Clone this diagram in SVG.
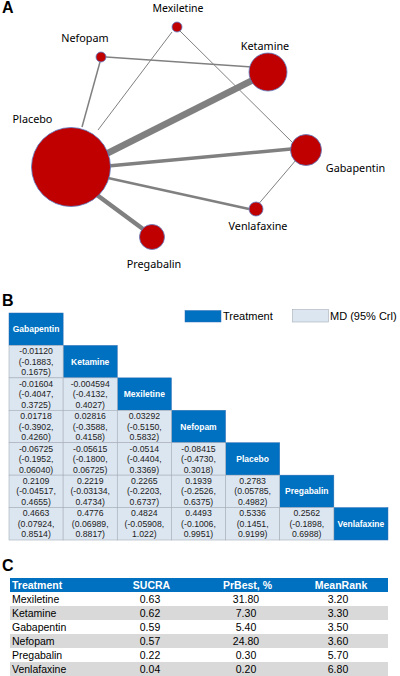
<svg xmlns="http://www.w3.org/2000/svg" width="400" height="676" viewBox="0 0 400 676">
<style>
.panel{font-family:"Liberation Sans",Arial,sans-serif;font-weight:bold;font-size:16px;fill:#000}
.nlab{font-family:"Noto Sans","Open Sans",sans-serif;font-size:10.8px;fill:#000;text-anchor:middle}
.node{fill:#C00000;stroke:#5B7FC9;stroke-width:0.8}
.edge{stroke:#808080;stroke-linecap:butt;fill:none}
.hd{fill:#0070C0;stroke:#2E6DB4;stroke-width:0.5}
.gc{fill:#DCE6F1;stroke:#A6AEB8;stroke-width:0.6}
.ht{font-family:"Liberation Sans",Arial,sans-serif;font-weight:bold;font-size:8.5px;fill:#fff;text-anchor:middle}
.ct{font-family:"Liberation Sans",Arial,sans-serif;font-size:8.7px;fill:#222;text-anchor:middle}
.lg{font-family:"Liberation Sans",Arial,sans-serif;font-size:11px;fill:#000}
.th{font-family:"Liberation Sans",Arial,sans-serif;font-weight:bold;font-size:10.5px;fill:#fff}
.td{font-family:"Liberation Sans",Arial,sans-serif;font-size:10.5px;fill:#000}
.mid{text-anchor:middle}
</style>
<rect width="400" height="676" fill="#fff"/>

<text class="panel" x="2" y="13">A</text>

<g id="connectors">
<line class="edge" x1="106" y1="57" x2="252" y2="67" stroke-width="1.5"/>
<line class="edge" x1="172" y1="32" x2="98" y2="130" stroke-width="1"/>
<line class="edge" x1="180" y1="31" x2="296" y2="146" stroke-width="1"/>
<line class="edge" x1="100" y1="62" x2="82" y2="127" stroke-width="1.5"/>
<line class="edge" x1="106" y1="154" x2="253" y2="80" stroke-width="6.5"/>
<line class="edge" x1="108" y1="166" x2="291" y2="149" stroke-width="3.5"/>
<line class="edge" x1="108" y1="178" x2="249" y2="209" stroke-width="2.5"/>
<line class="edge" x1="97" y1="195" x2="143" y2="229" stroke-width="4.5"/>
<line class="edge" x1="296" y1="160" x2="256" y2="207" stroke-width="1"/>
</g>

<g id="node-mexiletine"><circle class="node" cx="177" cy="27" r="5"/><text class="nlab" x="178" y="11.5" style="font-size:10.5px">Mexiletine</text></g>
<g id="node-nefopam"><circle class="node" cx="101" cy="57" r="5"/><text class="nlab" x="85" y="41.5">Nefopam</text></g>
<g id="node-ketamine"><circle class="node" cx="268" cy="72" r="19"/><text class="nlab" x="265" y="50">Ketamine</text></g>
<g id="node-placebo"><circle class="node" cx="71" cy="167" r="39.5"/><text class="nlab" x="32.5" y="123">Placebo</text></g>
<g id="node-gabapentin"><circle class="node" cx="306" cy="150" r="15.5"/><text class="nlab" x="355.5" y="172">Gabapentin</text></g>
<g id="node-venlafaxine"><circle class="node" cx="256" cy="209" r="7"/><text class="nlab" x="258" y="230">Venlafaxine</text></g>
<g id="node-pregabalin"><circle class="node" cx="152" cy="237" r="12.5"/><text class="nlab" x="154" y="268">Pregabalin</text></g>

<text class="panel" x="2" y="306">B</text>

<g id="legend">
<rect class="hd" x="185" y="310.5" width="36" height="11.5"/>
<text class="lg" x="223" y="319.5">Treatment</text>
<rect class="gc" x="292.5" y="309.5" width="36" height="12.5"/>
<text class="lg" x="330" y="319.5">MD (95% Crl)</text>
</g>

<g id="matrix">
<rect class="hd" x="9" y="313" width="54.14" height="32.43"/><text class="ht" x="36.07" y="332.2">Gabapentin</text>
<rect class="hd" x="63.14" y="345.43" width="54.14" height="32.43"/><text class="ht" x="90.21" y="364.6">Ketamine</text>
<rect class="hd" x="117.28" y="377.86" width="54.14" height="32.43"/><text class="ht" x="144.35" y="397.1">Mexiletine</text>
<rect class="hd" x="171.42" y="410.29" width="54.14" height="32.43"/><text class="ht" x="198.49" y="429.5">Nefopam</text>
<rect class="hd" x="225.56" y="442.72" width="54.14" height="32.43"/><text class="ht" x="252.63" y="461.9">Placebo</text>
<rect class="hd" x="279.7" y="475.15" width="54.14" height="32.43"/><text class="ht" x="306.77" y="494.4">Pregabalin</text>
<rect class="hd" x="333.84" y="507.58" width="54.14" height="32.43"/><text class="ht" x="360.91" y="526.8">Venlafaxine</text>

<rect class="gc" x="9" y="345.43" width="54.14" height="32.43"/>
<text class="ct" x="36.07" y="354.2">-0.01120</text><text class="ct" x="36.07" y="364.7">(-0.1883,</text><text class="ct" x="36.07" y="375.2">0.1675)</text>

<rect class="gc" x="9" y="377.86" width="54.14" height="32.43"/>
<text class="ct" x="36.07" y="386.7">-0.01604</text><text class="ct" x="36.07" y="397.2">(-0.4047,</text><text class="ct" x="36.07" y="407.7">0.3725)</text>
<rect class="gc" x="63.14" y="377.86" width="54.14" height="32.43"/>
<text class="ct" x="90.21" y="386.7">-0.004594</text><text class="ct" x="90.21" y="397.2">(-0.4132,</text><text class="ct" x="90.21" y="407.7">0.4027)</text>

<rect class="gc" x="9" y="410.29" width="54.14" height="32.43"/>
<text class="ct" x="36.07" y="419.1">0.01718</text><text class="ct" x="36.07" y="429.6">(-0.3902,</text><text class="ct" x="36.07" y="440.1">0.4260)</text>
<rect class="gc" x="63.14" y="410.29" width="54.14" height="32.43"/>
<text class="ct" x="90.21" y="419.1">0.02816</text><text class="ct" x="90.21" y="429.6">(-0.3588,</text><text class="ct" x="90.21" y="440.1">0.4158)</text>
<rect class="gc" x="117.28" y="410.29" width="54.14" height="32.43"/>
<text class="ct" x="144.35" y="419.1">0.03292</text><text class="ct" x="144.35" y="429.6">(-0.5150,</text><text class="ct" x="144.35" y="440.1">0.5832)</text>

<rect class="gc" x="9" y="442.72" width="54.14" height="32.43"/>
<text class="ct" x="36.07" y="451.5">-0.06725</text><text class="ct" x="36.07" y="462">(-0.1952,</text><text class="ct" x="36.07" y="472.5">0.06040)</text>
<rect class="gc" x="63.14" y="442.72" width="54.14" height="32.43"/>
<text class="ct" x="90.21" y="451.5">-0.05615</text><text class="ct" x="90.21" y="462">(-0.1800,</text><text class="ct" x="90.21" y="472.5">0.06725)</text>
<rect class="gc" x="117.28" y="442.72" width="54.14" height="32.43"/>
<text class="ct" x="144.35" y="451.5">-0.0514</text><text class="ct" x="144.35" y="462">(-0.4404,</text><text class="ct" x="144.35" y="472.5">0.3369)</text>
<rect class="gc" x="171.42" y="442.72" width="54.14" height="32.43"/>
<text class="ct" x="198.49" y="451.5">-0.08415</text><text class="ct" x="198.49" y="462">(-0.4730,</text><text class="ct" x="198.49" y="472.5">0.3018)</text>

<rect class="gc" x="9" y="475.15" width="54.14" height="32.43"/>
<text class="ct" x="36.07" y="483.9">0.2109</text><text class="ct" x="36.07" y="494.4">(-0.04517,</text><text class="ct" x="36.07" y="504.9">0.4655)</text>
<rect class="gc" x="63.14" y="475.15" width="54.14" height="32.43"/>
<text class="ct" x="90.21" y="483.9">0.2219</text><text class="ct" x="90.21" y="494.4">(-0.03134,</text><text class="ct" x="90.21" y="504.9">0.4734)</text>
<rect class="gc" x="117.28" y="475.15" width="54.14" height="32.43"/>
<text class="ct" x="144.35" y="483.9">0.2265</text><text class="ct" x="144.35" y="494.4">(-0.2203,</text><text class="ct" x="144.35" y="504.9">0.6737)</text>
<rect class="gc" x="171.42" y="475.15" width="54.14" height="32.43"/>
<text class="ct" x="198.49" y="483.9">0.1939</text><text class="ct" x="198.49" y="494.4">(-0.2526,</text><text class="ct" x="198.49" y="504.9">0.6375)</text>
<rect class="gc" x="225.56" y="475.15" width="54.14" height="32.43"/>
<text class="ct" x="252.63" y="483.9">0.2783</text><text class="ct" x="252.63" y="494.4">(0.05785,</text><text class="ct" x="252.63" y="504.9">0.4982)</text>

<rect class="gc" x="9" y="507.58" width="54.14" height="32.43"/>
<text class="ct" x="36.07" y="516.4">0.4663</text><text class="ct" x="36.07" y="526.9">(0.07924,</text><text class="ct" x="36.07" y="537.4">0.8514)</text>
<rect class="gc" x="63.14" y="507.58" width="54.14" height="32.43"/>
<text class="ct" x="90.21" y="516.4">0.4776</text><text class="ct" x="90.21" y="526.9">(0.06989,</text><text class="ct" x="90.21" y="537.4">0.8817)</text>
<rect class="gc" x="117.28" y="507.58" width="54.14" height="32.43"/>
<text class="ct" x="144.35" y="516.4">0.4824</text><text class="ct" x="144.35" y="526.9">(-0.05908,</text><text class="ct" x="144.35" y="537.4">1.022)</text>
<rect class="gc" x="171.42" y="507.58" width="54.14" height="32.43"/>
<text class="ct" x="198.49" y="516.4">0.4493</text><text class="ct" x="198.49" y="526.9">(-0.1006,</text><text class="ct" x="198.49" y="537.4">0.9951)</text>
<rect class="gc" x="225.56" y="507.58" width="54.14" height="32.43"/>
<text class="ct" x="252.63" y="516.4">0.5336</text><text class="ct" x="252.63" y="526.9">(0.1451,</text><text class="ct" x="252.63" y="537.4">0.9199)</text>
<rect class="gc" x="279.7" y="507.58" width="54.14" height="32.43"/>
<text class="ct" x="306.77" y="516.4">0.2562</text><text class="ct" x="306.77" y="526.9">(-0.1898,</text><text class="ct" x="306.77" y="537.4">0.6988)</text>
</g>

<text class="panel" x="2" y="571">C</text>

<g id="rank-table">
<rect x="10" y="578" width="378" height="14" fill="#0070C0"/>
<text class="th" x="12" y="589">Treatment</text>
<text class="th mid" x="151.5" y="589">SUCRA</text>
<text class="th mid" x="247.5" y="589">PrBest, %</text>
<text class="th mid" x="341" y="589">MeanRank</text>
<rect x="10" y="606" width="378" height="14" fill="#D9D9D9"/>
<rect x="10" y="634" width="378" height="14" fill="#D9D9D9"/>
<rect x="10" y="662" width="378" height="14" fill="#D9D9D9"/>
<text class="td" x="12" y="603">Mexiletine</text><text class="td mid" x="150" y="603">0.63</text><text class="td mid" x="246" y="603">31.80</text><text class="td mid" x="338" y="603">3.20</text>
<text class="td" x="12" y="617">Ketamine</text><text class="td mid" x="150" y="617">0.62</text><text class="td mid" x="246" y="617">7.30</text><text class="td mid" x="338" y="617">3.30</text>
<text class="td" x="12" y="631">Gabapentin</text><text class="td mid" x="150" y="631">0.59</text><text class="td mid" x="246" y="631">5.40</text><text class="td mid" x="338" y="631">3.50</text>
<text class="td" x="12" y="645">Nefopam</text><text class="td mid" x="150" y="645">0.57</text><text class="td mid" x="246" y="645">24.80</text><text class="td mid" x="338" y="645">3.60</text>
<text class="td" x="12" y="659">Pregabalin</text><text class="td mid" x="150" y="659">0.22</text><text class="td mid" x="246" y="659">0.30</text><text class="td mid" x="338" y="659">5.70</text>
<text class="td" x="12" y="673">Venlafaxine</text><text class="td mid" x="150" y="673">0.04</text><text class="td mid" x="246" y="673">0.20</text><text class="td mid" x="338" y="673">6.80</text>
</g>
</svg>
